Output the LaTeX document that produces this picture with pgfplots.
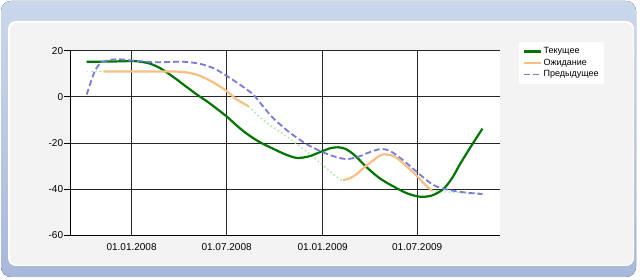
\documentclass[border=0pt]{standalone}
\usepackage{pgfplots}
\pgfplotsset{compat=1.18}
\usepackage{fontspec}
\setmainfont{Liberation Sans}
\definecolor{cGreen}{RGB}{0,118,0}
\definecolor{cOrange}{RGB}{248,190,132}
\definecolor{cBlue}{RGB}{122,122,222}
\definecolor{cPale}{RGB}{180,234,180}
\definecolor{bandTop}{RGB}{202,216,236}
\definecolor{bandBot}{RGB}{168,184,218}
\definecolor{panel}{RGB}{243,243,243}
\begin{document}
\begin{tikzpicture}[x=1pt,y=1pt]
\fill[white] (0,0) rectangle (640,280);
\fill[top color=bandTop,bottom color=bandBot,rounded corners=10pt] (1,3) rectangle (636,279);
\fill[white,rounded corners=8pt] (8,14) rectangle (634,259);
\fill[panel,rounded corners=8pt] (10,15) rectangle (633,257);
\begin{axis}[
  at={(70.3pt,44.8pt)}, anchor=south west,
  scale only axis, width=429.9pt, height=184.5pt,
  xmin=-117.4, xmax=706, ymin=-60, ymax=20,
  axis lines=left, axis line style={black,line width=0.8pt,-},
  axis background/.style={fill=white},
  grid=major, major grid style={black!85,line width=0.7pt},
  xtick={0,182,366,547},
  xticklabels={01.01.2008,01.07.2008,01.01.2009,01.07.2009},
  ytick={-60,-40,-20,0,20},
  yticklabels={-60,-40,-20,0,20},
  tick label style={font=\fontsize{10}{12}\selectfont},
  xtick style={draw=none},
  ytick style={black,line width=0.8pt},
  tick align=outside, major tick length=6pt,
  yticklabel style={inner sep=1pt},
  xticklabel style={inner sep=1pt,yshift=-1pt},
  clip=false,
  legend style={at={(1,1)}, anchor=north west, xshift=19pt, yshift=8.7pt,
    draw=none, fill=white, font=\fontsize{9}{10.5}\selectfont,
    inner xsep=3pt, inner ysep=3.5pt, row sep=-0.3pt},
  legend cell align=left,
]
% pale dotted (empty points of expectation series)
\addplot[cPale, line width=1.7pt, dash pattern=on 1.6pt off 2.6pt, smooth, forget plot] coordinates {(-86,11) (-54,11)};
\addplot[cPale, line width=1.7pt, dash pattern=on 1.6pt off 2.6pt, smooth, forget plot] coordinates {
(224,-4.1) (252,-10.1) (284,-15.2) (316,-20.3) (348,-26.1) (374,-31.2) (399,-35.8) (405,-36.1)};
\addplot[cPale, line width=1.7pt, dash pattern=on 1.6pt off 2.6pt, smooth, forget plot] coordinates {
(575,-40.7) (620,-41.4) (672,-41.8)};
% current
\addplot[cGreen, line width=2.2pt, smooth] coordinates {
(-86,15.2) (-40,15.3) (3,15.5) (20,15.1) (35,14.4) (55,12.4) (80,8.6) (100,5.2) (125,1.0)
(150,-2.9) (182,-8.5) (200,-12.2) (220,-15.9) (245,-19.6) (271,-22.5) (295,-25.0) (317,-26.5)
(340,-25.8) (365,-23.6) (382,-22.2) (396,-21.9) (410,-22.6) (428,-25.5) (450,-30.5)
(475,-35.3) (501,-38.8) (527,-41.8) (552,-43.3) (575,-42.8) (597,-40) (614,-35.2)
(629,-29.2) (650,-21.5) (672,-13.8)};
\addlegendentry{Текущее}
% expectation
\addplot[cOrange, line width=2.2pt, smooth] coordinates {
(-54,11.0) (0,11.0) (60,11.0) (90,10.9) (110,10.4) (130,9.2) (156,6.3) (182,2.5) (201,-1.1) (224,-4.1)};
\addlegendentry{Ожидание}
% previous
\addplot[cBlue, line width=1.8pt, dash pattern=on 6pt off 3pt, smooth] coordinates {
(-86,1.0) (-78,6.5) (-70,11.3) (-57,15.0) (-29,16.3) (3,15.7) (48,15.0) (99,15.2) (131,14.3)
(158,12.3) (182,9.1) (208,5.2) (233,1.0) (252,-4.2) (271,-9.2) (303,-15.5) (335,-20.5) (365,-23.9)
(390,-26.0) (412,-27.0) (434,-26.0) (456,-24.0) (478,-22.6) (496,-23.6) (520,-27.5)
(546,-32.5) (570,-37) (591,-39.5) (629,-41.2) (672,-42.2)};
\addlegendentry{Предыдущее}
\addplot[cOrange, line width=2.2pt, smooth, forget plot] coordinates {
(405,-36.1) (418,-35.3) (431,-33.5) (450,-29.8) (476,-25.4) (489,-25.0) (502,-25.7) (514,-27.6)
(530,-30.8) (546,-34.2) (560,-37.6) (575,-40.7)};
\end{axis}
\end{tikzpicture}
\end{document}
